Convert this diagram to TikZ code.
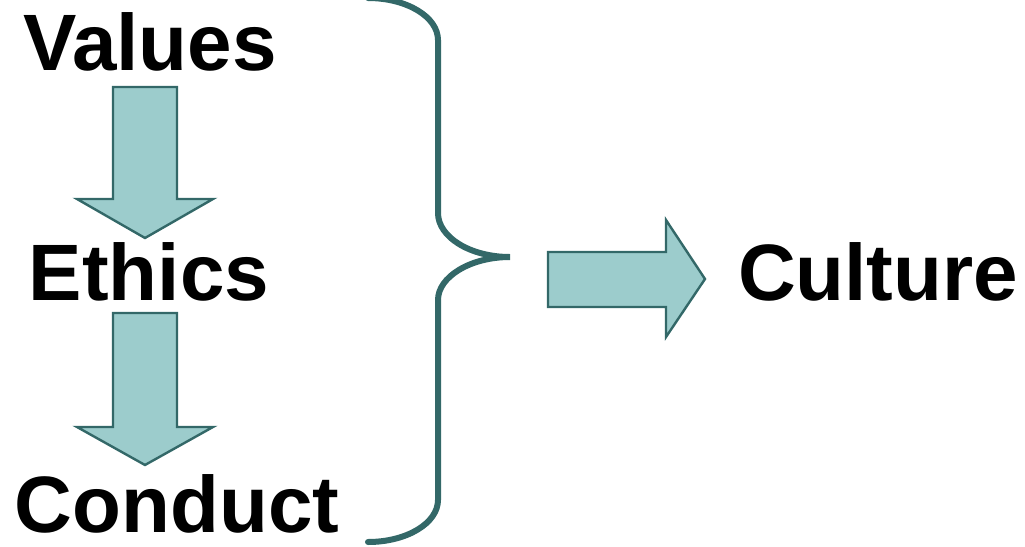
\documentclass[tikz,border=0pt]{standalone}
\usepackage{fontspec}
\setmainfont{Liberation Sans}
\definecolor{tealfill}{HTML}{9CCCCC}
\definecolor{tealline}{HTML}{336868}
\tikzset{
  word/.style={font=\fontsize{40}{40}\selectfont\bfseries, anchor=base, inner sep=0pt},
  blockarrow/.style={draw=tealline, fill=tealfill, line width=1.2pt, line join=miter},
  brace/.style={draw=tealline, line width=3pt, line cap=round}
}
\begin{document}
\begin{tikzpicture}[x=0.5pt, y=-0.5pt]
   \def\Xl{113}
   \def\Xr{177}
   \def\Xm{145}
   \useasboundingbox (0,0) rectangle (1025,547);
   \clip (0,0) rectangle (1025,547);

        % labels
        \node[word] (values) at (150, 70) {Values};
        \node[word] (ethics) at (149, 300) {Ethics};
        \node[word] (conduct) at (177, 532) {Conduct};
        \node[word] (culture) at (878, 300) {Culture};

        % arrows
        \draw[blockarrow] (\Xl, 87) -- (\Xr, 87) -- (\Xr, 199) -- (213, 199)
              -- (\Xm, 238) -- (77, 199) -- (\Xl, 199) -- cycle;
        \draw[blockarrow] (\Xl, 313) -- (\Xr, 313) -- (\Xr, 427) -- (213, 427)
              -- (\Xm, 465) -- (77, 427) -- (\Xl, 427) -- cycle;
        \draw[blockarrow] (548, 252) -- (666, 252) -- (666, 220) -- (705, 279)
              -- (666, 337) -- (666, 307) -- (548, 307) -- cycle;

        % brace
        \draw[brace] (368, -2) .. controls (407, -2) and (438, 17) .. (438, 40)
              -- (438, 213) .. controls (438, 237) and (470, 257) .. (510, 257)
              .. controls (470, 257) and (438, 277) .. (438, 300)
              -- (438, 500) .. controls (438, 523) and (407, 542) .. (368, 542);
\end{tikzpicture}
\end{document}
